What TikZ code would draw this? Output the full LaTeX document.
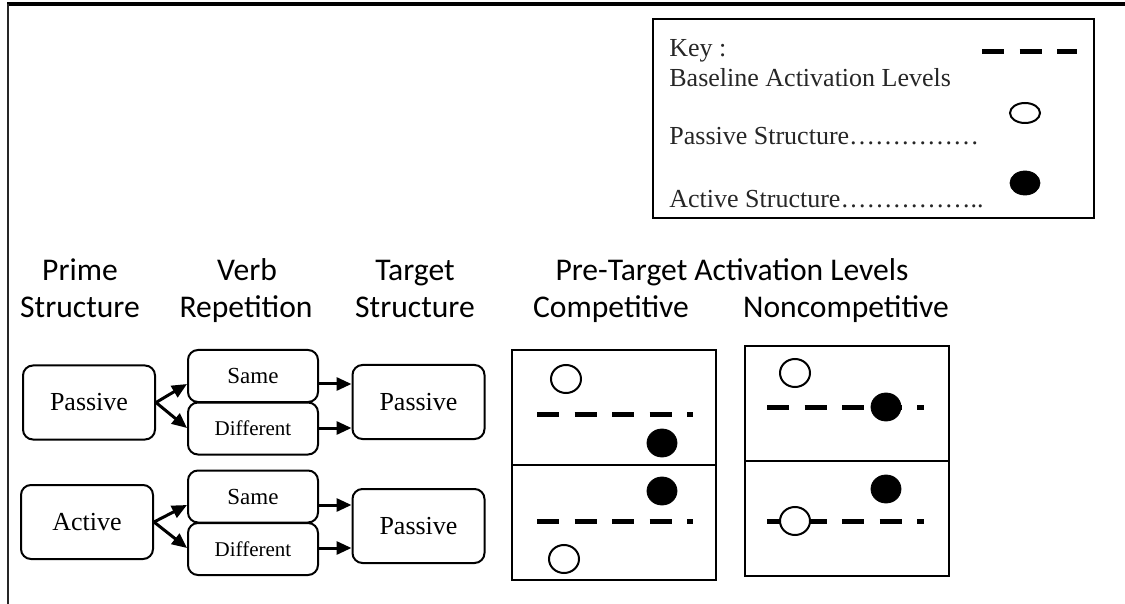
\documentclass[tikz,border=0pt]{standalone}
\usepackage{fontspec}
\setmainfont{Liberation Serif}
\newfontfamily\hdfont{Carlito}
\usetikzlibrary{arrows.meta}
\begin{document}
\begin{tikzpicture}[x=0.5pt,y=-0.5pt,
  box/.style={draw,line width=1pt,rounded corners=5pt,inner sep=0pt,
    font=\fontsize{13}{15}\selectfont},
  bigbox/.style={box,minimum width=66pt,minimum height=37pt},
  smallbox/.style={box,minimum width=65pt,minimum height=26pt},
  arr/.style={line width=1.5pt,-{Triangle[length=7.5pt,width=6.5pt]}},
  hd/.style={anchor=base,font=\hdfont\fontsize{15.8}{18}\selectfont,inner sep=0pt},
  keytxt/.style={anchor=base west,inner sep=0pt,text=black!85,font=\fontsize{13}{15}\selectfont},
  base/.style={line width=2.5pt,dash pattern=on 11pt off 7.75pt},
  panel/.style={draw,line width=1pt},
  opencirc/.style={draw,fill=white,line width=1pt},
  fullcirc/.style={fill=black}]
\useasboundingbox (0,0) rectangle (1125,604);
% frame
\draw[line width=1.6pt] (7,4) -- (1125,4);
\draw[line width=1.2pt,black!85] (8,4) -- (8,604);
% key
\draw[line width=1.3pt] (653,19) rectangle (1094,218);
\node[keytxt] (k1) at (669,57) {Key :};
\node[keytxt] (k2) at (669,87) {Baseline Activation Levels};
\node[keytxt] (k3) at (669,145) {Passive Structure……………};
\node[keytxt] (k4) at (669,208) {Active Structure……………..};
\draw[base] (982,52) -- (1077,52);
\draw[opencirc] (1025,113) ellipse [x radius=15, y radius=10];
\draw[fullcirc] (1025,183) ellipse [x radius=15, y radius=12];
% headers
\node[hd] (h1a) at (80,281) {Prime};
\node[hd] (h1b) at (80,318) {Structure};
\node[hd] (h2a) at (247,281) {Verb};
\node[hd] (h2b) at (246,318) {Repetition};
\node[hd] (h3a) at (415,281) {Target};
\node[hd] (h3b) at (415,318) {Structure};
\node[hd] (h4) at (732,281) {Pre-Target Activation Levels};
\node[hd] (h5) at (611,318) {Competitive};
\node[hd] (h6) at (846,318) {Noncompetitive};
% flow boxes, group 1
\node[bigbox] (p1) at (89,402.5) {Passive};
\node[smallbox,font=\fontsize{11.5}{13}\selectfont] (s1) at (253,376) {Same};
\node[smallbox,font=\fontsize{10.5}{12}\selectfont] (d1) at (253,428.5) {Different};
\node[bigbox] (t1) at (418.5,402) {Passive};
\draw[arr] (p1.east) -- (s1.west |- 0,384);
\draw[arr] (p1.east) -- (d1.west |- 0,428);
\draw[arr] (s1.east |- 0,384) -- (t1.west |- 0,384);
\draw[arr] (d1.east |- 0,428) -- (t1.west |- 0,428);
% group 2
\node[bigbox] (a2) at (87,522) {Active};
\node[smallbox,font=\fontsize{11.5}{13}\selectfont] (s2) at (253,496.5) {Same};
\node[smallbox,font=\fontsize{10.5}{12}\selectfont] (d2) at (253,549) {Different};
\node[bigbox] (t2) at (418.5,526) {Passive};
\draw[arr] (a2.east) -- (s2.west |- 0,505);
\draw[arr] (a2.east) -- (d2.west |- 0,548);
\draw[arr] (s2.east |- 0,505) -- (t2.west |- 0,505);
\draw[arr] (d2.east |- 0,548) -- (t2.west |- 0,548);
% competitive panels
\draw[panel] (512,350) rectangle (716,465);
\draw[panel] (512,465) rectangle (716,580);
\draw[opencirc] (566,379) ellipse [x radius=15, y radius=14];
\draw[base] (537,414) -- (693,414);
\draw[fullcirc] (662,443) ellipse [x radius=15, y radius=14];
\draw[fullcirc] (662,491) ellipse [x radius=15, y radius=14];
\draw[base] (537,521) -- (693,521);
\draw[opencirc] (564,559) ellipse [x radius=15, y radius=14];
% noncompetitive panels
\draw[panel] (745,346) rectangle (949,461);
\draw[panel] (745,461) rectangle (949,576);
\draw[opencirc] (795,373) ellipse [x radius=15, y radius=14];
\draw[base] (767,407) -- (924,407);
\draw[fullcirc] (886,407) ellipse [x radius=15, y radius=14];
\draw[fullcirc] (886,489) ellipse [x radius=15, y radius=14];
\draw[base] (767,521) -- (924,521);
\draw[opencirc] (795,521) ellipse [x radius=15, y radius=14];
\end{tikzpicture}
\end{document}
